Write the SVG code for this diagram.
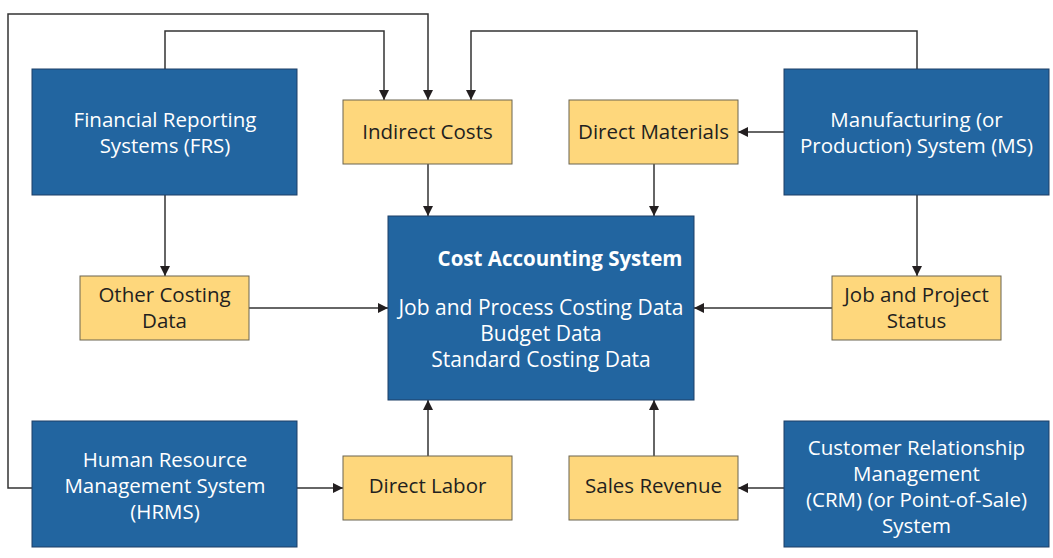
<svg xmlns="http://www.w3.org/2000/svg" width="1053" height="558" viewBox="0 0 1053 558">
<defs>
<marker id="ah" viewBox="0 0 10 10" refX="10" refY="5" markerWidth="10" markerHeight="10" markerUnits="userSpaceOnUse" orient="auto">
<path d="M0,0 L10,5 L0,10 z" fill="#231f20"/>
</marker>
<style>
.sys{fill:#2265a0;stroke:#1d3f66;stroke-width:1}
.dat{fill:#fed77c;stroke:#6b6450;stroke-width:1}
.wt{fill:#ffffff;font-family:"Open Sans","Liberation Sans",sans-serif;font-size:20.5px;text-anchor:middle}
.bt{fill:#231f20;font-family:"Open Sans","Liberation Sans",sans-serif;font-size:20.5px;text-anchor:middle}
.big{font-size:21px}
.b{font-weight:bold}
.c{fill:none;stroke:#333333;stroke-width:1.5}
</style>
</defs>
<rect width="1053" height="558" fill="#ffffff"/>
<g id="connectors">
<path class="c" d="M32,488 H8 V14 H428 V100" marker-end="url(#ah)"/>
<path class="c" d="M165,69 V31 H384 V100" marker-end="url(#ah)"/>
<path class="c" d="M917,69 V31 H471 V100" marker-end="url(#ah)"/>
<path class="c" d="M428,164 V216" marker-end="url(#ah)"/>
<path class="c" d="M654,164 V216" marker-end="url(#ah)"/>
<path class="c" d="M784,132 H738" marker-end="url(#ah)"/>
<path class="c" d="M917,195 V276" marker-end="url(#ah)"/>
<path class="c" d="M165,195 V276" marker-end="url(#ah)"/>
<path class="c" d="M249,308 H388" marker-end="url(#ah)"/>
<path class="c" d="M832,308 H694" marker-end="url(#ah)"/>
<path class="c" d="M297,488 H343" marker-end="url(#ah)"/>
<path class="c" d="M428,456 V400" marker-end="url(#ah)"/>
<path class="c" d="M654,456 V400" marker-end="url(#ah)"/>
<path class="c" d="M784,488 H738" marker-end="url(#ah)"/>
</g>
<g id="frs">
<rect class="sys" x="32" y="69" width="265" height="126"/>
<text class="wt" x="165" y="127">Financial Reporting</text>
<text class="wt" x="165" y="153">Systems (FRS)</text>
</g>
<g id="indirect-costs">
<rect class="dat" x="343" y="100" width="169" height="64"/>
<text class="bt" x="427.5" y="139">Indirect Costs</text>
</g>
<g id="direct-materials">
<rect class="dat" x="569" y="100" width="169" height="64"/>
<text class="bt" x="653.5" y="139">Direct Materials</text>
</g>
<g id="ms">
<rect class="sys" x="784" y="69" width="265" height="126"/>
<text class="wt" x="916.5" y="127">Manufacturing (or</text>
<text class="wt" x="916.5" y="153">Production) System (MS)</text>
</g>
<g id="cas">
<rect class="sys" x="388" y="216" width="306" height="184"/>
<text class="wt b" x="560" y="266">Cost Accounting System</text>
<text class="wt big" x="541" y="315">Job and Process Costing Data</text>
<text class="wt big" x="541" y="341">Budget Data</text>
<text class="wt big" x="541" y="367">Standard Costing Data</text>
</g>
<g id="other-costing">
<rect class="dat" x="80" y="276" width="169" height="64"/>
<text class="bt" x="164.5" y="302">Other Costing</text>
<text class="bt" x="164.5" y="328">Data</text>
</g>
<g id="job-project">
<rect class="dat" x="832" y="276" width="169" height="64"/>
<text class="bt" x="916.5" y="302">Job and Project</text>
<text class="bt" x="916.5" y="328">Status</text>
</g>
<g id="hrms">
<rect class="sys" x="32" y="421" width="265" height="126"/>
<text class="wt" x="165" y="467">Human Resource</text>
<text class="wt" x="165" y="493">Management System</text>
<text class="wt" x="165" y="519">(HRMS)</text>
</g>
<g id="direct-labor">
<rect class="dat" x="343" y="456" width="169" height="64"/>
<text class="bt" x="427.5" y="493">Direct Labor</text>
</g>
<g id="sales-revenue">
<rect class="dat" x="569" y="456" width="169" height="64"/>
<text class="bt" x="653.5" y="493">Sales Revenue</text>
</g>
<g id="crm">
<rect class="sys" x="784" y="421" width="265" height="126"/>
<text class="wt" x="916.5" y="455">Customer Relationship</text>
<text class="wt" x="916.5" y="481">Management</text>
<text class="wt" x="916.5" y="507">(CRM) (or Point-of-Sale)</text>
<text class="wt" x="916.5" y="533">System</text>
</g>
</svg>
